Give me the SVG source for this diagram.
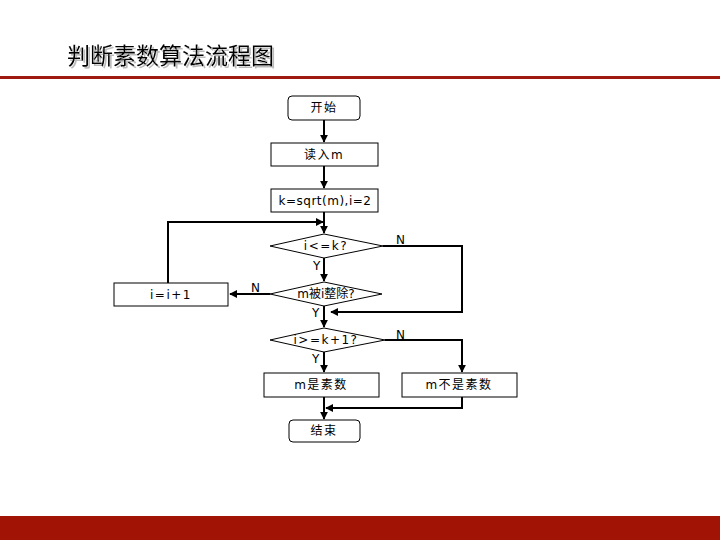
<svg xmlns="http://www.w3.org/2000/svg" width="720" height="540" viewBox="0 0 720 540">
<style>
.box{fill:#fff;stroke:#000;stroke-width:1}
.t{font-family:"DejaVu Sans","Noto Sans CJK SC",sans-serif;font-size:12px;fill:#000;text-anchor:middle}
.w{letter-spacing:1.5px}
.lbl{font-family:"DejaVu Sans","Noto Sans CJK SC",sans-serif;font-size:12px;fill:#000}
.c{fill:none;stroke:#000;stroke-width:2}
</style>
<defs>
<marker id="ah" viewBox="0 0 10 10" refX="9" refY="5" markerWidth="4" markerHeight="4" orient="auto" markerUnits="strokeWidth">
<path d="M0,0 L10,5 L0,10 z" fill="#000"/>
</marker>
<filter id="sh" x="-5%" y="-20%" width="110%" height="140%">
<feOffset in="SourceAlpha" dx="2" dy="2" result="o"/>
<feFlood flood-color="#bbbbbb"/>
<feComposite in2="o" operator="in" result="s"/>
<feMerge><feMergeNode in="s"/><feMergeNode in="SourceGraphic"/></feMerge>
</filter>
</defs>
<rect x="0" y="0" width="720" height="540" fill="#fff"/>
<g id="header">
<text x="67" y="64" font-family="'Noto Sans CJK SC',sans-serif" font-size="23" fill="#000" filter="url(#sh)">判断素数算法流程图</text>
<rect x="0" y="76" width="720" height="3" fill="#9e1a0f"/>
</g>
<rect id="footer" x="0" y="516" width="720" height="24" fill="#a11405"/>
<g id="connectors">
<path class="c" d="M324,120 V142" marker-end="url(#ah)"/>
<path class="c" d="M324,166 V188" marker-end="url(#ah)"/>
<path class="c" d="M324,212 V233" marker-end="url(#ah)"/>
<path class="c" d="M168,283 V222 H323" marker-end="url(#ah)"/>
<path class="c" d="M383,246 H462 V312 H331" marker-end="url(#ah)"/>
<path class="c" d="M324,258 V281" marker-end="url(#ah)"/>
<path class="c" d="M270,294 H230" marker-end="url(#ah)"/>
<path class="c" d="M324,306 V327" marker-end="url(#ah)"/>
<path class="c" d="M385,340 H462 V372" marker-end="url(#ah)"/>
<path class="c" d="M324,352 V372" marker-end="url(#ah)"/>
<path class="c" d="M324,397 V419" marker-end="url(#ah)"/>
<path class="c" d="M462,397 V408 H326" marker-end="url(#ah)"/>
<text class="lbl" x="396" y="244">N</text>
<text class="lbl" x="313" y="270">Y</text>
<text class="lbl" x="251" y="292">N</text>
<text class="lbl" x="312" y="317">Y</text>
<text class="lbl" x="396" y="339">N</text>
<text class="lbl" x="312" y="363">Y</text>
</g>
<g id="start">
<rect class="box" x="288" y="96" width="72" height="24" rx="4"/>
<text class="t w" x="324" y="112">开始</text>
</g>
<g id="read">
<rect class="box" x="271" y="143" width="107" height="23"/>
<text class="t w" x="324" y="159">读入m</text>
</g>
<g id="init">
<rect class="box" x="271" y="189" width="107" height="23"/>
<text class="t" x="325" y="205" letter-spacing="0.5">k=sqrt(m),i=2</text>
</g>
<g id="cond1">
<polygon class="box" points="270,246 324,234 383,246 324,258"/>
<text class="t w" x="326" y="250">i&lt;=k?</text>
</g>
<g id="cond2">
<polygon class="box" points="270,294 324,282 382,294 324,306"/>
<text class="t" x="326" y="298">m被i整除?</text>
</g>
<g id="inc">
<rect class="box" x="114" y="283" width="114" height="23"/>
<text class="t w" x="171" y="299">i=i+1</text>
</g>
<g id="cond3">
<polygon class="box" points="270,340 324,328 385,340 324,352"/>
<text class="t w" x="326" y="344">i&gt;=k+1?</text>
</g>
<g id="prime">
<rect class="box" x="264" y="373" width="115" height="24"/>
<text class="t w" x="321" y="389">m是素数</text>
</g>
<g id="notprime">
<rect class="box" x="402" y="373" width="115" height="24"/>
<text class="t w" x="459" y="389">m不是素数</text>
</g>
<g id="end">
<rect class="box" x="289" y="420" width="71" height="22" rx="4"/>
<text class="t w" x="324" y="435">结束</text>
</g>
</svg>
